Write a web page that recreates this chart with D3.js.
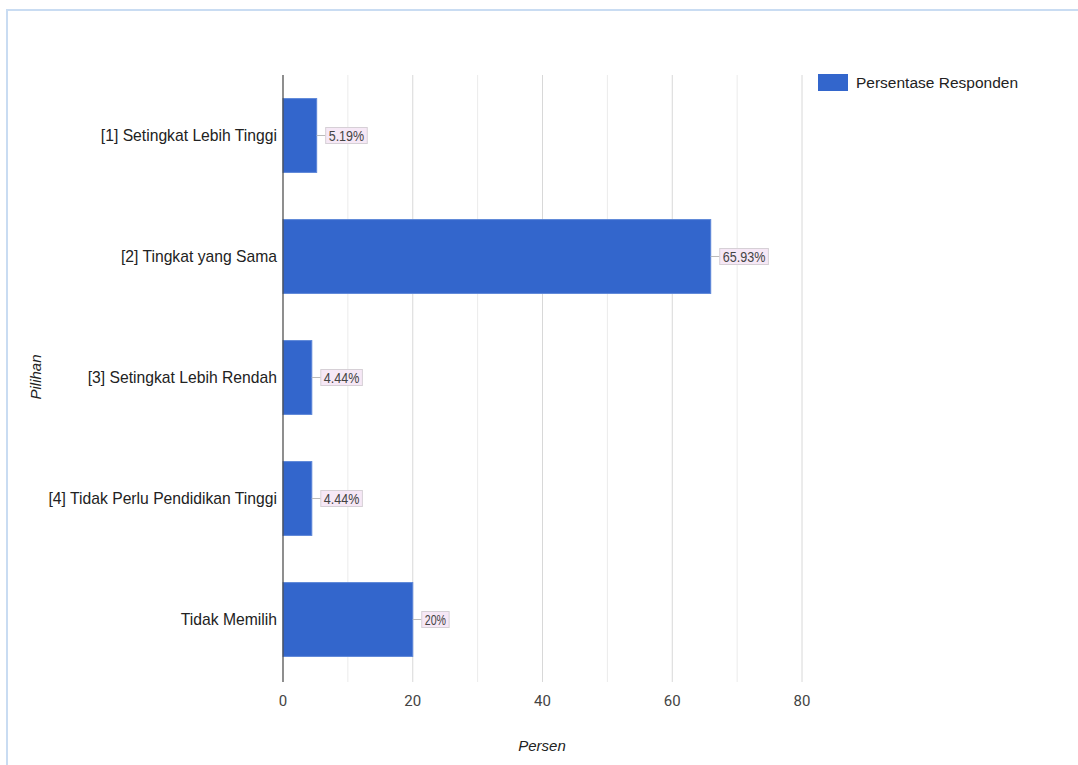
<!DOCTYPE html>
<html><head><meta charset="utf-8">
<script src="https://cdn.jsdelivr.net/npm/d3@7"></script>
<style>body{margin:0;background:#fff;}svg{display:block;font-family:"Liberation Sans",Arial,sans-serif;}</style>
</head><body>
<svg id="c" width="1078" height="765"></svg>
<script>
const categories = ["[1] Setingkat Lebih Tinggi","[2] Tingkat yang Sama","[3] Setingkat Lebih Rendah","[4] Tidak Perlu Pendidikan Tinggi","Tidak Memilih"];
const values = [5.19, 65.93, 4.44, 4.44, 20];
const valueLabels = ["5.19%","65.93%","4.44%","4.44%","20%"];
const xTicks = [0,20,40,60,80];
const gridTicks = [10,20,30,40,50,60,70,80];
const seriesName = "Persentase Responden";
const xTitle = "Persen";
const yTitle = "Pilihan";

const svg = d3.select("#c");
// outer border
svg.append("rect").attr("x",7).attr("y",10).attr("width",1100).attr("height",800)
  .attr("fill","none").attr("stroke","#c9dcf2").attr("stroke-width",2);

const x = d3.scaleLinear().domain([0,80]).range([283,802]);
const y = d3.scaleBand().domain(categories).range([75,680]).paddingInner(0.39).paddingOuter(0.195);

// gridlines
svg.append("g").selectAll("line").data(gridTicks).join("line")
  .attr("x1",d=>x(d)).attr("x2",d=>x(d)).attr("y1",75).attr("y2",682)
  .attr("stroke",d=>d%20===0?"#d8d8d8":"#ebebeb").attr("stroke-width",1);

// bars
svg.append("g").selectAll("rect").data(values).join("rect")
  .attr("x",x(0)).attr("y",(d,i)=>y(categories[i]))
  .attr("width",d=>x(d)-x(0)).attr("height",y.bandwidth())
  .attr("fill","#3366cc").attr("stroke","#5b85d8").attr("stroke-width",1);

// axis line
svg.append("line").attr("x1",x(0)).attr("x2",x(0)).attr("y1",75).attr("y2",682)
  .attr("stroke","#444").attr("stroke-width",1.2);

// value labels
const lab = svg.append("g").selectAll("g").data(values).join("g")
  .attr("transform",(d,i)=>`translate(${x(d)},${y(categories[i])+y.bandwidth()/2})`);
lab.append("line").attr("x1",0).attr("x2",9).attr("y1",0).attr("y2",0).attr("stroke","#bbb");
lab.append("text").attr("x",12).attr("y",5).attr("font-size",14.5).attr("fill","#444")
  .attr("textLength",(d,i)=>valueLabels[i].length*7.1).attr("lengthAdjust","spacingAndGlyphs")
  .text((d,i)=>valueLabels[i]).each(function(){
    const b=this.getBBox();
    d3.select(this.parentNode).insert("rect","text").attr("x",b.x-3).attr("y",-8)
      .attr("width",b.width+6).attr("height",16).attr("fill","#f6e8f6").attr("stroke","#d6d0d6");
  });

// category labels
svg.append("g").selectAll("text").data(categories).join("text")
  .attr("x",277).attr("y",d=>y(d)+y.bandwidth()/2+5.5).attr("text-anchor","end")
  .attr("font-size",15.7).attr("fill","#222").text(d=>d);

// x tick labels
svg.append("g").selectAll("text").data(xTicks).join("text")
  .attr("x",d=>x(d)).attr("y",706).attr("text-anchor","middle")
  .attr("font-family","Roboto,sans-serif")
  .attr("font-size",15).attr("fill","#444").text(d=>d);

// axis titles
svg.append("text").attr("x",542).attr("y",751).attr("text-anchor","middle")
  .attr("font-size",15).attr("font-style","italic").attr("fill","#222").text(xTitle);
svg.append("text").attr("transform","translate(41,377) rotate(-90)").attr("text-anchor","middle")
  .attr("font-size",15).attr("font-style","italic").attr("fill","#222").text(yTitle);

// legend
svg.append("rect").attr("x",818).attr("y",74).attr("width",30).attr("height",17).attr("fill","#3366cc");
svg.append("text").attr("x",856).attr("y",88).attr("font-size",15.5).attr("fill","#222").text(seriesName);
</script>
</body></html>
